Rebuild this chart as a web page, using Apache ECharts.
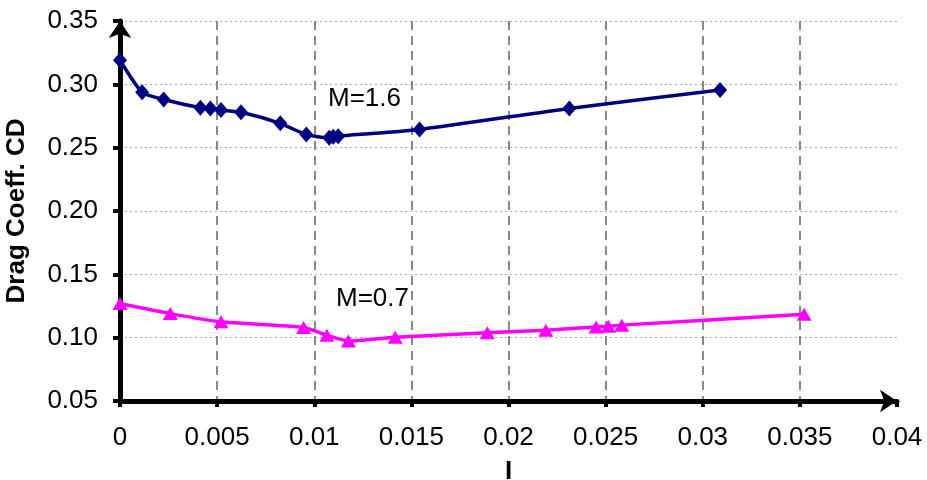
<!DOCTYPE html>
<html>
<head>
<meta charset="utf-8">
<script src="https://cdn.jsdelivr.net/npm/echarts@6/dist/echarts.min.js"></script>
<style>
  html, body { margin: 0; padding: 0; background: #fff; }
  #chart { width: 927px; height: 480px; }
</style>
</head>
<body>
<div id="chart"></div>
<script>
// Drag coefficient vs. I for two Mach numbers
const iM16  = [0, 0.00114, 0.00225, 0.00414, 0.00465, 0.0052, 0.00623, 0.00825, 0.00959, 0.01077, 0.01098, 0.01123, 0.01542, 0.02313, 0.03089];
const cdM16 = [0.319, 0.2937, 0.288, 0.2815, 0.281, 0.2797, 0.2779, 0.2692, 0.2603, 0.2578, 0.2586, 0.2591, 0.2644, 0.281, 0.2955];

const iM07  = [0, 0.00259, 0.0052, 0.00945, 0.01065, 0.01176, 0.01417, 0.01891, 0.02192, 0.02451, 0.02514, 0.02583, 0.03522];
const cdM07 = [0.127, 0.119, 0.1125, 0.108, 0.102, 0.0974, 0.1004, 0.1038, 0.1059, 0.1085, 0.109, 0.1099, 0.1185];

const seriesNames = ['M=1.6', 'M=0.7'];
const xTitle = 'I';
const yTitle = 'Drag Coeff. CD';

const pairs = (xs, ys) => xs.map((x, k) => [x, ys[k]]);
const FONT = '"Liberation Sans", Arial, sans-serif';

const chart = echarts.init(document.getElementById('chart'));
chart.setOption({
  animation: false,
  backgroundColor: '#fff',
  grid: { left: 120, right: 30, top: 21, bottom: 79, containLabel: false, outerBoundsMode: 'none' },
  xAxis: {
    type: 'value',
    min: 0, max: 0.04, interval: 0.005,
    name: xTitle,
    nameLocation: 'middle',
    nameGap: 58,
    nameTextStyle: { fontFamily: FONT, fontSize: 26, fontWeight: 'bold', color: '#000' },
    axisLine: {
      show: true,
      lineStyle: { color: '#000', width: 5 },
      symbol: ['none', 'arrow'],
      symbolSize: [17, 17],
      symbolOffset: [0, 0]
    },
    axisTick: { show: true, inside: false, length: 6, lineStyle: { color: '#000', width: 4 } },
    axisLabel: { fontFamily: FONT, fontSize: 26, color: '#000', margin: 24 },
    splitLine: { show: true, showMaxLine: false, lineStyle: { color: '#888', width: 2, type: [9, 6] } }
  },
  yAxis: {
    type: 'value',
    min: 0.05, max: 0.35, interval: 0.05,
    name: yTitle,
    nameLocation: 'middle',
    nameGap: 90,
    nameTextStyle: { fontFamily: FONT, fontSize: 26, fontWeight: 'bold', color: '#000' },
    axisLine: {
      show: true,
      onZero: false,
      lineStyle: { color: '#000', width: 5 },
      symbol: ['none', 'arrow'],
      symbolSize: [17, 17],
      symbolOffset: [0, 0]
    },
    axisTick: { show: true, inside: false, length: 7, lineStyle: { color: '#000', width: 4 } },
    axisLabel: {
      fontFamily: FONT, fontSize: 26, color: '#000', margin: 22,
      formatter: v => v.toFixed(2)
    },
    splitLine: { show: true, lineStyle: { color: '#aaa', width: 1, type: [2, 3] } }
  },
  series: [
    {
      name: seriesNames[0],
      type: 'line',
      data: pairs(iM16, cdM16),
      smooth: 0.2,
      symbol: 'diamond',
      symbolSize: [14, 16],
      lineStyle: { color: '#000080', width: 3.5 },
      itemStyle: { color: '#000080' },
      z: 3
    },
    {
      name: seriesNames[1],
      type: 'line',
      data: pairs(iM07, cdM07),
      smooth: 0.2,
      symbol: 'triangle',
      symbolSize: [15, 13],
      lineStyle: { color: '#ff00ff', width: 3.5 },
      itemStyle: { color: '#ff00ff' },
      z: 3
    }
  ],
  graphic: [
    { type: 'text', left: 328, top: 86, style: { text: seriesNames[0], font: '26px ' + FONT, fill: '#000' } },
    { type: 'text', left: 336, top: 286, style: { text: seriesNames[1], font: '26px ' + FONT, fill: '#000' } }
  ]
});
</script>
</body>
</html>
